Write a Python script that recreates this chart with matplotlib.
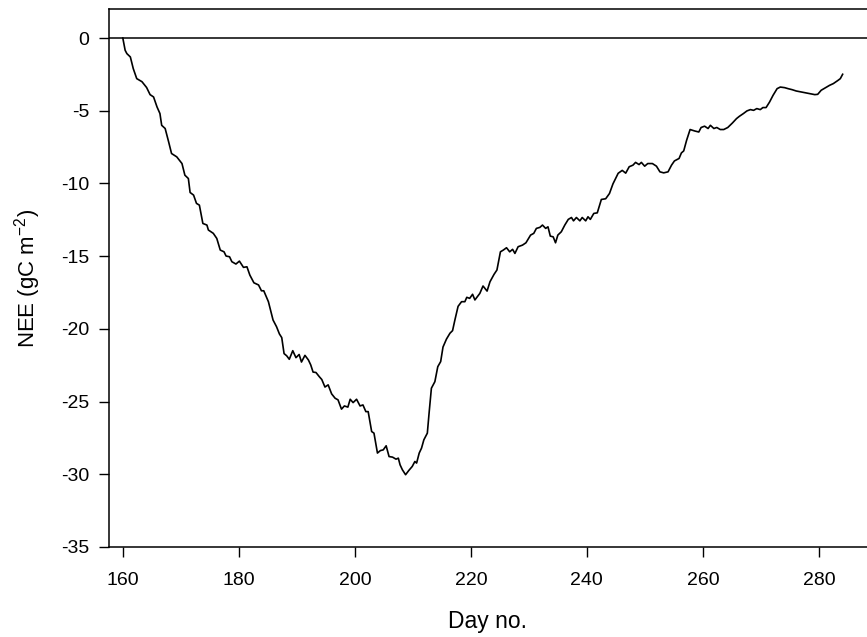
import matplotlib
matplotlib.use("Agg")
import matplotlib.pyplot as plt

plt.rcParams["font.family"] = ["Liberation Sans", "DejaVu Sans"]
plt.rcParams["axes.unicode_minus"] = False

# ── Data ───────────────────────────────────────────────────────────────────────
day = [160.0, 160.4, 160.7, 161.3, 161.8, 162.4, 163.3, 164.1, 164.7, 165.3,
       165.9, 166.4, 166.7, 167.3, 167.9, 168.4, 169.3, 170.2, 170.7, 171.3,
       171.6, 172.2, 172.7, 173.2, 173.8, 174.5, 174.75, 175.6, 176.2, 176.8,
       177.45, 177.8, 178.4, 178.8, 179.5, 180.1, 180.8, 181.4, 181.9, 182.6,
       183.4, 183.9, 184.3, 185.1, 185.9, 186.5, 187.0, 187.4, 187.8, 188.25,
       188.7, 189.3, 189.85, 190.4, 190.8, 191.4, 192.0, 192.4, 192.8, 193.3,
       193.9, 194.3, 194.85, 195.4, 196.0, 196.6, 197.1, 197.7, 198.2, 198.8,
       199.2, 199.7, 200.3, 200.9, 201.4, 201.9, 202.3, 202.9, 203.3, 203.9,
       204.4, 204.9, 205.4, 205.9, 206.5, 207.1, 207.5, 207.8, 208.2, 208.75,
       209.3, 209.9, 210.35, 210.65, 211.1, 211.5, 211.9, 212.5, 212.8, 213.2,
       213.8, 214.3, 214.8, 215.2, 215.8, 216.4, 216.85, 217.25, 217.8, 218.4,
       218.97, 219.3, 219.8, 220.3, 220.7, 221.55, 222.1, 222.8, 223.3, 224.0,
       224.5, 225.1, 225.6, 226.15, 226.7, 227.2, 227.6, 228.15, 228.9, 229.5,
       230.3, 230.85, 231.3, 231.9, 232.35, 232.9, 233.3, 233.7, 234.2, 234.6,
       235.0, 235.6, 236.2, 236.8, 237.35, 237.7, 238.2, 238.8, 239.2, 239.8,
       240.2, 240.6, 241.2, 241.8, 242.5, 243.25, 243.9, 244.5, 245.4, 246.1,
       246.7, 247.3, 247.95, 248.4, 249.0, 249.4, 249.97, 250.5, 251.3, 252.0,
       252.6, 253.25, 254.0, 254.6, 255.1, 255.9, 256.3, 256.7, 257.2, 257.8,
       258.6, 259.3, 259.7, 260.3, 260.9, 261.3, 261.9, 262.4, 263.0, 263.6,
       264.3, 265.1, 265.8, 266.3, 267.0, 267.6, 268.2, 268.75, 269.3, 269.9,
       270.35, 270.9, 271.5, 272.1, 272.8, 273.35, 274.1, 274.7, 275.4, 276.1,
       277.0, 277.8, 278.5, 279.3, 279.8, 280.4, 281.15, 281.85, 282.5, 283.3,
       283.7, 284.1]
nee = [0.0, -0.84, -1.07, -1.3, -2.1, -2.79, -3.0, -3.4, -3.89, -4.05,
       -4.74, -5.19, -6.0, -6.22, -7.14, -7.94, -8.17, -8.63, -9.43, -9.66,
       -10.62, -10.8, -11.37, -11.49, -12.75, -12.86, -13.2, -13.43, -13.78, -14.58,
       -14.7, -14.99, -15.04, -15.38, -15.54, -15.34, -15.77, -15.73, -16.3, -16.83,
       -16.98, -17.38, -17.38, -18.13, -19.39, -19.85, -20.35, -20.6, -21.7, -21.85,
       -22.09, -21.5, -21.98, -21.76, -22.28, -21.82, -22.14, -22.48, -22.97, -23.0,
       -23.3, -23.48, -24.0, -23.85, -24.47, -24.77, -24.88, -25.52, -25.3, -25.38,
       -24.84, -25.07, -24.84, -25.3, -25.23, -25.69, -25.69, -27.06, -27.17, -28.54,
       -28.37, -28.32, -28.04, -28.78, -28.82, -28.96, -28.89, -29.35, -29.69, -30.03,
       -29.74, -29.46, -29.12, -29.23, -28.54, -28.2, -27.63, -27.17, -25.8, -24.08,
       -23.63, -22.6, -22.25, -21.25, -20.7, -20.3, -20.12, -19.39, -18.45, -18.13,
       -18.13, -17.83, -17.9, -17.62, -18.01, -17.56, -17.05, -17.4, -16.76, -16.25,
       -15.95, -14.7, -14.58, -14.42, -14.7, -14.53, -14.81, -14.35, -14.24, -14.08,
       -13.55, -13.43, -13.09, -13.02, -12.86, -13.09, -12.98, -13.62, -13.67, -14.08,
       -13.55, -13.32, -12.86, -12.47, -12.34, -12.57, -12.34, -12.57, -12.34, -12.57,
       -12.29, -12.47, -12.06, -12.02, -11.1, -11.05, -10.69, -10.03, -9.3, -9.1,
       -9.29, -8.85, -8.74, -8.55, -8.7, -8.55, -8.81, -8.63, -8.63, -8.81,
       -9.2, -9.27, -9.2, -8.74, -8.45, -8.28, -7.9, -7.76, -7.03, -6.29,
       -6.39, -6.46, -6.15, -6.06, -6.22, -6.0, -6.22, -6.15, -6.29, -6.29,
       -6.15, -5.84, -5.54, -5.38, -5.19, -5.01, -4.92, -4.97, -4.85, -4.92,
       -4.78, -4.78, -4.4, -3.94, -3.48, -3.37, -3.41, -3.48, -3.55, -3.64,
       -3.71, -3.78, -3.82, -3.89, -3.87, -3.59, -3.41, -3.25, -3.13, -2.91,
       -2.79, -2.49]

x_ticks = [160, 180, 200, 220, 240, 260, 280]
y_ticks = [0, -5, -10, -15, -20, -25, -30, -35]

# ── Figure ─────────────────────────────────────────────────────────────────────
fig = plt.figure(figsize=(8.67, 6.37), dpi=100)
ax = fig.add_axes([0.1256, 0.1413, 0.8744, 0.8446])

ax.axhline(0, color="black", lw=1.1)
ax.plot(day, nee, color="black", lw=1.2)

ax.set_xlim(157.6, 288.3)
ax.set_ylim(-35, 2)
ax.set_xticks(x_ticks)
ax.set_yticks(y_ticks)
ax.tick_params(direction="out", length=7, width=1, labelsize=14, pad=7)
ax.tick_params(axis="x", pad=11)
ax.spines["right"].set_visible(False)
for sp in ("left", "bottom", "top"):
    ax.spines[sp].set_linewidth(1.1)

ax.set_xlabel("Day no.", fontsize=16.5, labelpad=15)
ax.set_ylabel(r"NEE (gC m$^{\mathregular{-2}}$)", fontsize=16, labelpad=13)

plt.savefig("out.png", dpi=100)
plt.close()
